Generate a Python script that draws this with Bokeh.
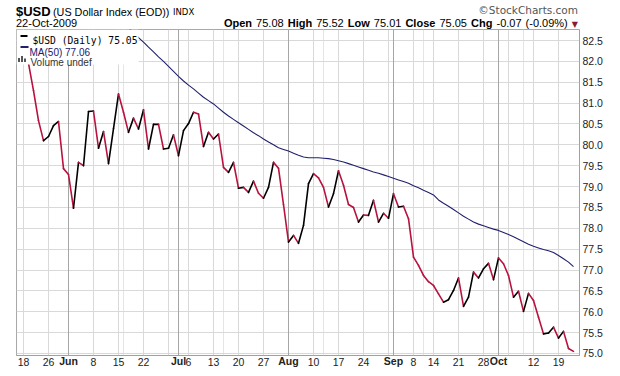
import math
import pandas as pd
from bokeh.plotting import figure
from bokeh.layouts import column
from bokeh.models import (ColumnDataSource, FixedTicker, Grid, Label, LinearAxis,
                          BoxAnnotation, Range1d, Div)
from bokeh.embed import file_html
from bokeh.resources import INLINE

# ---------------- data ----------------
holidays = ["2009-05-25", "2009-07-03", "2009-09-07"]
dates = [d.strftime("%Y-%m-%d") for d in pd.bdate_range("2009-05-18", "2009-10-22")
         if d.strftime("%Y-%m-%d") not in holidays]

close = [82.30, 81.95, 81.30, 80.58, 80.10, 80.20, 80.46, 80.56, 79.43, 79.29,
         78.48, 79.58, 79.50, 80.80, 80.81, 79.92, 80.32, 79.55, 80.39, 81.22,
         80.78, 80.30, 80.64, 80.38, 80.84, 79.90, 80.49, 80.49, 79.90, 79.92,
         80.24, 79.74, 80.34, 80.51, 80.78, 80.74, 79.96, 80.30, 80.14, 80.26,
         79.46, 79.34, 79.58, 78.96, 78.98, 78.86, 79.13, 78.84, 78.72, 78.98,
         79.58, 79.44, 78.57, 77.67, 77.83, 77.64, 78.07, 79.07, 79.31, 79.21,
         78.98, 78.51, 78.83, 79.38, 79.03, 78.57, 78.50, 78.15, 78.32, 78.31,
         78.67, 78.15, 78.36, 78.24, 78.83, 78.51, 78.53, 78.23, 77.31, 77.11,
         76.87, 76.72, 76.63, 76.43, 76.23, 76.29, 76.51, 76.81, 76.13, 76.35,
         76.95, 76.81, 77.03, 77.16, 76.77, 77.29, 77.15, 76.87, 76.35, 76.49,
         76.01, 76.44, 76.27, 75.87, 75.47, 75.49, 75.63, 75.37, 75.53, 75.12,
         75.05]

ma50 = [math.nan] * 20 + [
    82.92, 82.81, 82.69, 82.57, 82.46, 82.34, 82.23, 82.11, 82.00, 81.88,
    81.76, 81.64, 81.53, 81.43, 81.34, 81.24, 81.14, 81.06, 80.98, 80.88,
    80.78, 80.69, 80.61, 80.53, 80.45, 80.37, 80.29, 80.22, 80.14, 80.07,
    80.00, 79.93, 79.89, 79.85, 79.80, 79.75, 79.71, 79.69, 79.69, 79.69,
    79.68, 79.67, 79.65, 79.62, 79.59, 79.55, 79.51, 79.47, 79.43, 79.39,
    79.35, 79.32, 79.28, 79.24, 79.20, 79.16, 79.12, 79.08, 79.02, 78.97,
    78.91, 78.86, 78.80, 78.68, 78.60, 78.53, 78.45, 78.37, 78.29, 78.22,
    78.15, 78.10, 78.06, 78.02, 77.98, 77.95, 77.90, 77.85, 77.80, 77.74,
    77.68, 77.62, 77.57, 77.53, 77.49, 77.46, 77.42, 77.35, 77.27, 77.19,
    77.08]

y_ticks = [75.0, 75.5, 76.0, 76.5, 77.0, 77.5, 78.0, 78.5, 79.0, 79.5,
           80.0, 80.5, 81.0, 81.5, 82.0, 82.5]
y_tick_labels = ["75.0", "75.5", "76.0", "76.5", "77.0", "77.5", "78.0", "78.5",
                 "79.0", "79.5", "80.0", "80.5", "81.0", "81.5", "82.0", "82.5"]

week_grid_dates = ["2009-05-18", "2009-05-26", "2009-06-01", "2009-06-08", "2009-06-15",
                   "2009-06-22", "2009-06-29", "2009-07-06", "2009-07-13", "2009-07-20",
                   "2009-07-27", "2009-08-03", "2009-08-10", "2009-08-17", "2009-08-24",
                   "2009-08-31", "2009-09-08", "2009-09-14", "2009-09-21", "2009-09-28",
                   "2009-10-05", "2009-10-12", "2009-10-19"]
day_tick_dates = ["2009-05-18", "2009-05-26", "2009-06-08", "2009-06-15", "2009-06-22",
                  "2009-07-06", "2009-07-13", "2009-07-20", "2009-07-27", "2009-08-10",
                  "2009-08-17", "2009-08-24", "2009-09-08", "2009-09-14", "2009-09-21",
                  "2009-09-28", "2009-10-12", "2009-10-19"]
day_tick_labels = ["18", "26", "8", "15", "22", "6", "13", "20", "27", "10",
                   "17", "24", "8", "14", "21", "28", "12", "19"]
month_tick_dates = ["2009-06-01", "2009-07-01", "2009-08-03", "2009-09-01", "2009-10-01"]
month_tick_labels = ["Jun", "Jul", "Aug", "Sep", "Oct"]

title_symbol = "$USD"
title_name = "(US Dollar Index (EOD))"
title_exchange = "INDX"
date_text = "22-Oct-2009"
quote_parts = [("Open", "75.08"), ("High", "75.52"), ("Low", "75.01"),
               ("Close", "75.05"), ("Chg", "-0.07 (-0.09%)")]
legend_price = "$USD (Daily) 75.05"
legend_ma = "MA(50) 77.06"
legend_vol = "Volume undef"

# ---------------- build ----------------
pos = {d: i for i, d in enumerate(dates)}
idx = list(range(len(dates)))

RED = "#b8123e"
NAVY = "#20206e"
FONT = "'Liberation Sans', Arial, sans-serif"

seg = ColumnDataSource(dict(
    x0=idx[:-1], x1=idx[1:], y0=close[:-1], y1=close[1:],
    color=["#000000" if close[i + 1] >= close[i] else RED for i in range(len(close) - 1)],
))

# header (HTML text above the chart)
quote_html = " ".join(f"<b>{k}</b> {v}" for k, v in quote_parts)
header_html = f"""
<div style="position:relative;width:620px;height:29px;font-family:{FONT};color:#000;white-space:nowrap;">
  <span style="position:absolute;left:16px;top:5.5px;font-size:13px;line-height:12px;font-weight:bold;">{title_symbol}</span>
  <span style="position:absolute;left:53px;top:6.8px;font-size:10.8px;line-height:10px;">{title_name}</span>
  <span style="position:absolute;left:173px;top:8.3px;font-size:8.5px;line-height:8px;font-family:'DejaVu Sans',Verdana,sans-serif;">{title_exchange}</span>
  <span style="position:absolute;right:42px;top:5.5px;font-size:10.5px;line-height:9px;color:#555;font-family:'DejaVu Sans',Verdana,sans-serif;">&copy;StockCharts.com</span>
  <span style="position:absolute;left:16px;top:18px;font-size:11px;line-height:10px;">{date_text}</span>
  <span style="position:absolute;right:42px;top:18px;font-size:11px;line-height:10px;word-spacing:1px;">{quote_html} <span style="color:#8b1a3a;font-size:8px;font-family:'DejaVu Sans',sans-serif;">&#9660;</span></span>
</div>
"""
header = Div(text=header_html, width=620, height=29, margin=(0, 0, 0, 0))

p = figure(width=620, height=347,
           x_range=Range1d(-1.4, 111.2), y_range=Range1d(74.952, 82.764),
           x_axis_location=None, y_axis_location="right",
           toolbar_location=None, output_backend="svg",
           min_border_left=16, min_border_right=41, min_border_top=0, min_border_bottom=21,
           margin=(0, 0, 0, 0))
p.background_fill_color = "white"
p.border_fill_color = "white"
p.outline_line_color = "#a8a8a8"

# y axis
p.yaxis.ticker = FixedTicker(ticks=y_ticks)
p.yaxis.major_label_overrides = {t: l for t, l in zip(y_ticks, y_tick_labels)}
p.yaxis.major_tick_line_color = None
p.yaxis.major_tick_out = 0
p.yaxis.major_tick_in = 0
p.yaxis.minor_tick_line_color = None
p.yaxis.axis_line_color = "#999999"
p.yaxis.axis_line_dash = "1 1"
p.yaxis.major_label_standoff = 3
p.yaxis.major_label_text_font = "Liberation Sans"
p.yaxis.major_label_text_font_size = "10.5px"
p.yaxis.major_label_text_color = "#222222"

p.ygrid.ticker = FixedTicker(ticks=y_ticks)
p.ygrid.grid_line_color = "#d9d9d9"

p.add_layout(Grid(dimension=0, ticker=FixedTicker(ticks=[pos[d] for d in week_grid_dates]),
                  grid_line_color="#d9d9d9"))
p.add_layout(Grid(dimension=0, ticker=FixedTicker(ticks=[pos[d] for d in month_tick_dates]),
                  grid_line_color="#a6a6a6"))

# x axes: day numbers (normal) and month names (bold) on the same row
day_ticks = [pos[d] for d in day_tick_dates]
mon_ticks = [pos[d] for d in month_tick_dates]
day_axis = LinearAxis(ticker=FixedTicker(ticks=day_ticks),
                      major_label_overrides={t: l for t, l in zip(day_ticks, day_tick_labels)},
                      axis_line_color="#999999", axis_line_dash="1 1",
                      major_tick_line_color=None, minor_tick_line_color=None,
                      major_tick_out=0, major_tick_in=0,
                      major_label_standoff=2, major_label_text_font="Liberation Sans",
                      major_label_text_font_size="10.5px", major_label_text_color="#222222")
mon_axis = LinearAxis(ticker=FixedTicker(ticks=mon_ticks),
                      major_label_overrides={t: l for t, l in zip(mon_ticks, month_tick_labels)},
                      axis_line_color=None,
                      major_tick_line_color=None, minor_tick_line_color=None,
                      major_tick_out=0, major_tick_in=0,
                      major_label_standoff=-14, major_label_text_font="Liberation Sans",
                      major_label_text_font_size="10.5px", major_label_text_font_style="bold",
                      major_label_text_color="#222222")
p.add_layout(day_axis, "below")
p.add_layout(mon_axis, "below")

# series
p.line(idx, ma50, line_color=NAVY, line_width=1.1)
p.segment(x0="x0", y0="y0", x1="x1", y1="y1", line_color="color", line_width=1.6,
          line_cap="round", source=seg)

# legend box (inside the frame)
def sbox(l, r, b, t, color):
    p.add_layout(BoxAnnotation(left=l, right=r, bottom=b, top=t,
                               left_units="screen", right_units="screen",
                               top_units="screen", bottom_units="screen",
                               fill_color=color, fill_alpha=1.0, line_color=None))


sbox(0, 122, 291, 326, "white")
sbox(4, 11, 318.5, 320.5, "black")
sbox(4, 12, 307.5, 309.5, NAVY)
for l, r, t in ((1.5, 3.5, 297.5), (4.5, 6.5, 299.5), (7.5, 9.5, 297)):
    sbox(l, r, 293.5, t, "#555555")


def lab(x, y, text, font="Liberation Sans", size="10px", color="#000000"):
    p.add_layout(Label(x=x, y=y, x_units="screen", y_units="screen", text=text,
                       text_font=font, text_font_size=size, text_color=color,
                       text_align="left", text_baseline="alphabetic"))


lab(16, 315, legend_price, font="DejaVu Sans Mono", size="9.7px")
lab(13, 303.5, legend_ma, color=NAVY)
lab(14, 293.5, legend_vol, color="#333333")

layout = column(header, p, spacing=0, margin=(0, 0, 0, 0))
open("out.html", "w").write(file_html(layout, INLINE))
